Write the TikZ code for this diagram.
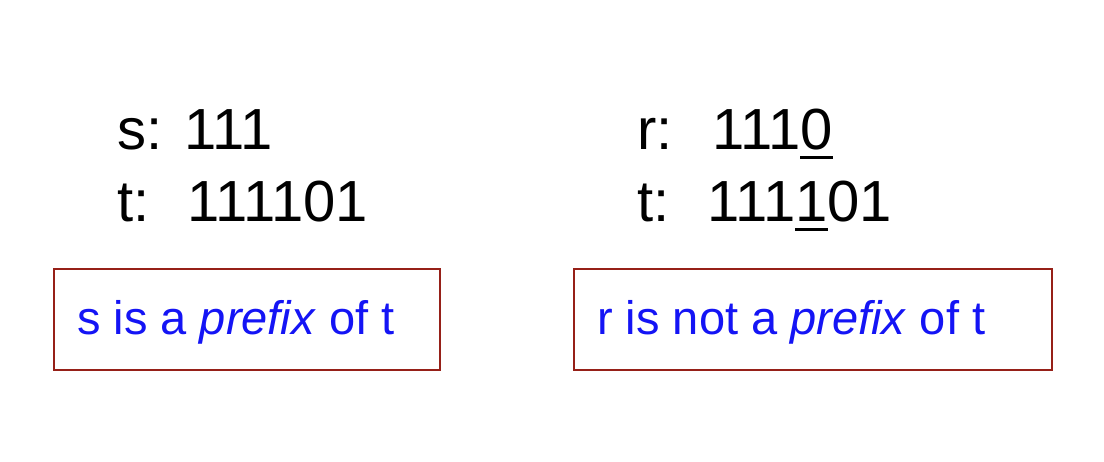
\documentclass[tikz,border=0pt]{standalone}
\usepackage{fontspec}
\setmainfont{Liberation Sans}
\definecolor{boxred}{RGB}{150,32,24}
\definecolor{txtblue}{RGB}{20,20,245}
\newcommand\ulx[1]{\setbox0\hbox{#1}\rlap{\rule[-9pt]{\wd0}{3pt}}#1}
\begin{document}
\begin{tikzpicture}[x=1pt,y=-1pt,
  blk/.style={inner sep=0pt, anchor=base west, font=\fontsize{58}{58}\selectfont, text=black},
  blu/.style={inner sep=0pt, anchor=base west, font=\fontsize{47}{47}\selectfont, text=txtblue},
  rbox/.style={draw=boxred, line width=2pt, inner sep=0pt, anchor=north west}]
\useasboundingbox (0,0) rectangle (1104,462);
\fill[white] (0,0) rectangle (1104,462);
% left
\node[blk] (sl) at (117,150) {s:};
\node[blk] (sv) at (184,150) {111};
\node[blk] (tl) at (117,222) {t:};
\node[blk] (tv) at (187,222) {111101};
\node[rbox, minimum width=386, minimum height=101] (b1) at (53,268) {};
\node[blu] (l1) at (77,335) {s is a \textit{prefix} of t};
% right
\node[blk] (rl) at (637,150) {r:};
\node[blk] (rv) at (712,150) {111\ulx{0}};
\node[blk] (tl2) at (637,222) {t:};
\node[blk] (tv2) at (707,222) {111\ulx{1}01};
\node[rbox, minimum width=478, minimum height=101] (b2) at (573,268) {};
\node[blu] (l2) at (597,335) {r is not a \textit{prefix} of t};
\end{tikzpicture}
\end{document}
